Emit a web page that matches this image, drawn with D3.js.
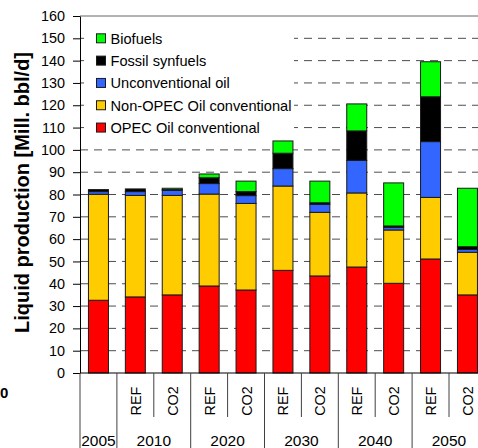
<!DOCTYPE html>
<html>
<head>
<meta charset="utf-8">
<script src="https://cdn.jsdelivr.net/npm/d3@7/dist/d3.min.js"></script>
<style>
  html, body { margin: 0; padding: 0; background: #fff; }
  svg { display: block; font-family: Arial, "Liberation Sans", sans-serif; }
</style>
</head>
<body>
<svg id="chart" width="478" height="448"></svg>
<script>
// Cases along the x axis: base year, then REF / CO2 scenario per projection year
const cases = ["2005", "2010 REF", "2010 CO2", "2020 REF", "2020 CO2", "2030 REF", "2030 CO2",
               "2040 REF", "2040 CO2", "2050 REF", "2050 CO2"];
const scenarioLabels = ["", "REF", "CO2", "REF", "CO2", "REF", "CO2", "REF", "CO2", "REF", "CO2"];
const years = ["2005", "2010", "2020", "2030", "2040", "2050"];
const yearSpans = [1, 2, 2, 2, 2, 2];

// Liquid production by source, Mill. bbl/d
const opecConventional    = [32.6, 34.1, 35.0, 39.0, 37.2, 46.0, 43.5, 47.5, 40.2, 51.1, 35.0];
const nonOpecConventional = [47.5, 45.5, 44.6, 41.2, 38.8, 37.8, 28.5, 33.2, 23.9, 27.6, 19.1];
const unconventionalOil   = [1.2, 1.7, 2.3, 4.7, 3.5, 7.8, 3.6, 14.6, 1.2, 25.0, 1.3];
const fossilSynfuels      = [0.9, 1.2, 0.3, 2.6, 1.8, 6.9, 0.7, 13.2, 0.6, 20.1, 1.2];
const biofuels            = [0.0, 0.0, 0.6, 1.7, 4.7, 5.5, 9.7, 12.1, 19.3, 15.7, 26.2];

const seriesNames = ["OPEC Oil conventional", "Non-OPEC Oil conventional", "Unconventional oil",
                     "Fossil synfuels", "Biofuels"];
const seriesColors = ["#ff0000", "#ffcc00", "#3366ff", "#000000", "#00ff00"];
const yTicks = [0, 10, 20, 30, 40, 50, 60, 70, 80, 90, 100, 110, 120, 130, 140, 150, 160];

const seriesValues = [opecConventional, nonOpecConventional, unconventionalOil, fossilSynfuels, biofuels];
const rows = cases.map((c, i) => {
  const r = { case: c };
  seriesNames.forEach((s, k) => { r[s] = seriesValues[k][i]; });
  return r;
});

const svg = d3.select("#chart");
const plotLeft = 80, plotTop = 16, plotBottom = 373, plotRight = 478;
const step = 36.9;

const x = d3.scaleBand()
  .domain(cases)
  .range([plotLeft, plotLeft + step * cases.length])
  .paddingInner(0.458)
  .paddingOuter(0.229);

const y = d3.scaleLinear().domain([0, 160]).range([plotBottom, plotTop]);

// dashed gridlines
svg.append("g")
  .selectAll("line")
  .data(yTicks.filter(t => t > 0 && t < 160))
  .join("line")
  .attr("x1", plotLeft).attr("x2", plotRight)
  .attr("y1", d => y(d)).attr("y2", d => y(d))
  .attr("stroke", "#4d4d4d")
  .attr("stroke-width", 1)
  .attr("stroke-dasharray", "8,6");

// top frame line
svg.append("line")
  .attr("x1", plotLeft).attr("x2", plotRight)
  .attr("y1", y(160)).attr("y2", y(160))
  .attr("stroke", "#666").attr("stroke-width", 1);

// stacked bars
const stack = d3.stack().keys(seriesNames)(rows);
svg.append("g")
  .selectAll("g")
  .data(stack)
  .join("g")
  .attr("fill", (d, i) => seriesColors[i])
  .selectAll("rect")
  .data(d => d.filter(p => p[1] - p[0] > 0))
  .join("rect")
  .attr("x", d => x(d.data.case))
  .attr("width", x.bandwidth())
  .attr("y", d => y(d[1]))
  .attr("height", d => y(d[0]) - y(d[1]))
  .attr("stroke", "#1a1a1a")
  .attr("stroke-width", 1);

// legend on a white panel
const legend = svg.append("g");
legend.append("rect")
  .attr("x", 84).attr("y", 26).attr("width", 210).attr("height", 114)
  .attr("fill", "#fff");
const legendOrder = [4, 3, 2, 1, 0];
legendOrder.forEach((k, j) => {
  const cy = y(150 - j * 10);
  legend.append("rect")
    .attr("x", 96.5).attr("y", cy - 4.5)
    .attr("width", 9).attr("height", 9)
    .attr("fill", seriesColors[k])
    .attr("stroke", "#1a1a1a").attr("stroke-width", 1);
  legend.append("text")
    .attr("x", 110.5).attr("y", cy)
    .attr("dy", "0.36em")
    .attr("font-size", 14.6)
    .attr("fill", "#000")
    .text(seriesNames[k]);
});

// y axis
const yAxis = svg.append("g")
  .attr("transform", `translate(${plotLeft},0)`)
  .call(d3.axisLeft(y).tickValues(yTicks).tickSize(7).tickPadding(8).tickSizeOuter(0));
yAxis.select(".domain").attr("stroke", "#000");
yAxis.selectAll(".tick line").attr("stroke", "#000");
yAxis.selectAll(".tick text")
  .attr("font-size", 14.4)
  .attr("font-family", "Arial, 'Liberation Sans', sans-serif")
  .attr("fill", "#000");

// x axis baseline
svg.append("line")
  .attr("x1", plotLeft).attr("x2", plotRight)
  .attr("y1", plotBottom).attr("y2", plotBottom)
  .attr("stroke", "#000");

// category separators below the axis
const xBounds = d3.range(cases.length + 1).map(i => plotLeft + i * step);
const groupStarts = [0];
yearSpans.forEach((s, i) => groupStarts.push(groupStarts[i] + s));
svg.append("g")
  .selectAll("line")
  .data(xBounds)
  .join("line")
  .attr("x1", d => d).attr("x2", d => d)
  .attr("y1", plotBottom)
  .attr("y2", (d, i) => groupStarts.includes(i) ? 448 : 417)
  .attr("stroke", "#404040")
  .attr("stroke-width", 1);

// scenario labels (rotated)
svg.append("g")
  .selectAll("text")
  .data(cases.filter((c, i) => scenarioLabels[i]))
  .join("text")
  .attr("transform", d => `translate(${x(d) + x.bandwidth() / 2 + 5.5},401) rotate(-90)`)
  .attr("text-anchor", "middle")
  .attr("font-size", 14.4)
  .attr("fill", "#000")
  .text(d => scenarioLabels[cases.indexOf(d)]);

// year labels
svg.append("g")
  .selectAll("text")
  .data(years)
  .join("text")
  .attr("x", (d, i) => plotLeft + (groupStarts[i] + yearSpans[i] / 2) * step)
  .attr("y", 446)
  .attr("text-anchor", "middle")
  .attr("font-size", 15.5)
  .attr("fill", "#000")
  .text(d => d);

// y axis title
svg.append("text")
  .attr("transform", "translate(29,192.5) rotate(-90)")
  .attr("text-anchor", "middle")
  .attr("font-size", 20)
  .attr("font-weight", "bold")
  .attr("fill", "#000")
  .text("Liquid production [Mill. bbl/d]");

// stray label at left margin
svg.append("text")
  .attr("x", 0).attr("y", 398)
  .attr("font-size", 15)
  .attr("font-weight", "bold")
  .attr("fill", "#000")
  .text("0");
</script>
</body>
</html>
